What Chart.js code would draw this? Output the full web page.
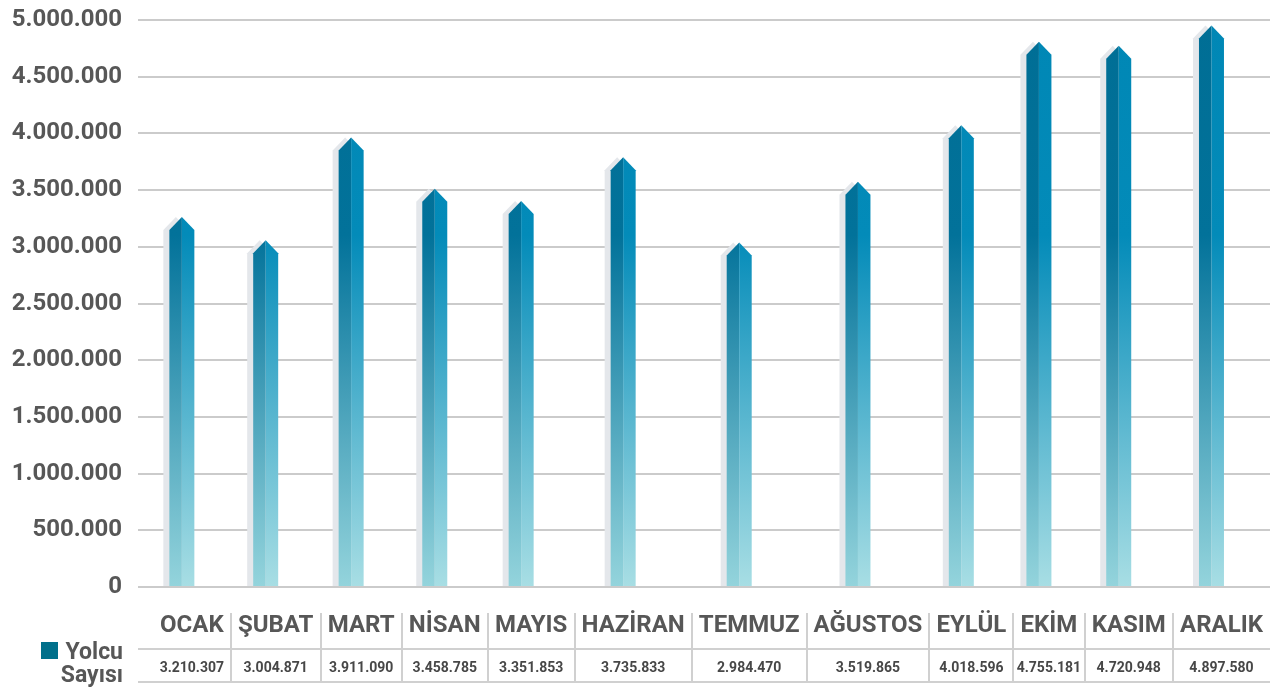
<!DOCTYPE html>
<html><head><meta charset="utf-8">
<script src="https://cdn.jsdelivr.net/npm/chart.js@4.4.1/dist/chart.umd.min.js"></script>
<style>html,body{margin:0;padding:0;background:#fff;overflow:hidden}</style>
</head><body>
<canvas id="c" width="1271" height="688"></canvas>
<script>
// ---- data ----
const months = ['OCAK','ŞUBAT','MART','NİSAN','MAYIS','HAZİRAN','TEMMUZ','AĞUSTOS','EYLÜL','EKİM','KASIM','ARALIK'];
const passengers = [3210307,3004871,3911090,3458785,3351853,3735833,2984470,3519865,4018596,4755181,4720948,4897580];
const yMin = 0, yMax = 5000000, yStep = 500000;
const seriesName = ['Yolcu','Sayısı'];

// ---- styles ----
const FONT = 'Roboto, "Noto Sans", sans-serif';
const TEXT = '#575757';
const GRID = '#cbcbcb';
const BAR_W = 25, BAR_SHIFT = -10;
const fmt = v => String(Math.round(v)).replace(/\B(?=(\d{3})+(?!\d))/g,'.');

// column widths of the data table derived from the header text widths
const mctx = document.createElement('canvas').getContext('2d');
mctx.font = 'bold 24px ' + FONT;
const colW = months.map(m => mctx.measureText(m).width + 15);
const colStart = []; let acc = 0;
colW.forEach(w => { colStart.push(acc); acc += w; });
const total = acc;
const centers = colStart.map((s,i) => s + colW[i]/2);
const LEAD = 15;

function poly(ctx, pts){ ctx.beginPath(); ctx.moveTo(pts[0][0],pts[0][1]); for(let i=1;i<pts.length;i++) ctx.lineTo(pts[i][0],pts[i][1]); ctx.closePath(); ctx.fill(); }

const pencilBars = {
  id:'pencil',
  afterDatasetsDraw(chart){
    const {ctx, chartArea:a} = chart;
    const meta = chart.getDatasetMeta(0);
    const gL = ctx.createLinearGradient(0,a.top,0,a.bottom);
    gL.addColorStop(0,'#006e95'); gL.addColorStop(0.38,'#02729a'); gL.addColorStop(1,'#94d4dc');
    const gR = ctx.createLinearGradient(0,a.top,0,a.bottom);
    gR.addColorStop(0,'#0087b5'); gR.addColorStop(0.38,'#038bb9'); gR.addColorStop(1,'#a8dee4');
    ctx.save();
    meta.data.forEach(el => {
      const cx = el.x + BAR_SHIFT, h = BAR_W/2, base = el.base;
      const sh = el.y + 7, tip = sh - 13;
      ctx.fillStyle = '#e4e7eb';
      const s = cx - 6;
      poly(ctx, [[s-h,base],[s-h,sh],[s,tip],[s+h,sh],[s+h,base]]);
      ctx.fillStyle = gL;
      poly(ctx, [[cx-h,base],[cx-h,sh],[cx,tip],[cx,base]]);
      ctx.fillStyle = gR;
      poly(ctx, [[cx,base],[cx,tip],[cx+h,sh],[cx+h,base]]);
    });
    ctx.restore();
  }
};

const dataTable = {
  id:'dataTable',
  afterDraw(chart){
    const {ctx, chartArea:a, scales:{x}} = chart;
    const b = a.bottom;
    ctx.save();
    ctx.strokeStyle = '#d0d0d0'; ctx.lineWidth = 2;
    [b+62, b+95].forEach(y => { ctx.beginPath(); ctx.moveTo(a.left,y); ctx.lineTo(a.right,y); ctx.stroke(); });
    for (let i=1;i<months.length;i++){
      const px = Math.round(x.getPixelForValue(colStart[i]));
      ctx.beginPath(); ctx.moveTo(px, b+26); ctx.lineTo(px, b+95); ctx.stroke();
    }
    ctx.textAlign = 'center'; ctx.textBaseline = 'alphabetic';
    ctx.fillStyle = TEXT; ctx.font = 'bold 24px ' + FONT;
    months.forEach((m,i) => ctx.fillText(m, x.getPixelForValue(centers[i]), b+45));
    ctx.fillStyle = '#474747'; ctx.font = 'bold 14px ' + FONT;
    passengers.forEach((v,i) => ctx.fillText(fmt(v), x.getPixelForValue(centers[i]), b+85));
    ctx.fillStyle = '#01708b'; ctx.fillRect(41, b+55, 17, 17);
    ctx.fillStyle = TEXT; ctx.font = 'bold 23px ' + FONT; ctx.textAlign = 'right';
    ctx.fillText(seriesName[0], 123, b+72);
    ctx.fillText(seriesName[1], 123, b+95);
    ctx.restore();
  }
};

new Chart(document.getElementById('c'), {
  type:'bar',
  data:{ datasets:[{
    label: seriesName.join(' '),
    data: passengers.map((v,i) => ({x: centers[i], y: v})),
    backgroundColor:'rgba(0,0,0,0)', borderWidth:0, barThickness: BAR_W
  }]},
  options:{
    responsive:false, animation:false,
    layout:{padding:{top:20, bottom:101, right:1, left:0}},
    plugins:{legend:{display:false}, tooltip:{enabled:false}},
    scales:{
      x:{type:'linear', min:-LEAD, max:total, offset:false, display:false},
      y:{min:yMin, max:yMax,
         ticks:{stepSize:yStep, callback:fmt, color:TEXT, padding:16, font:{family:FONT, size:24, weight:'bold'}},
         grid:{color:GRID, lineWidth:2, drawTicks:false},
         border:{display:false},
         afterFit(s){ s.width = 138; s.paddingTop = 0; s.paddingBottom = 0; }
      }
    }
  },
  plugins:[pencilBars, dataTable]
});
</script>
</body></html>
